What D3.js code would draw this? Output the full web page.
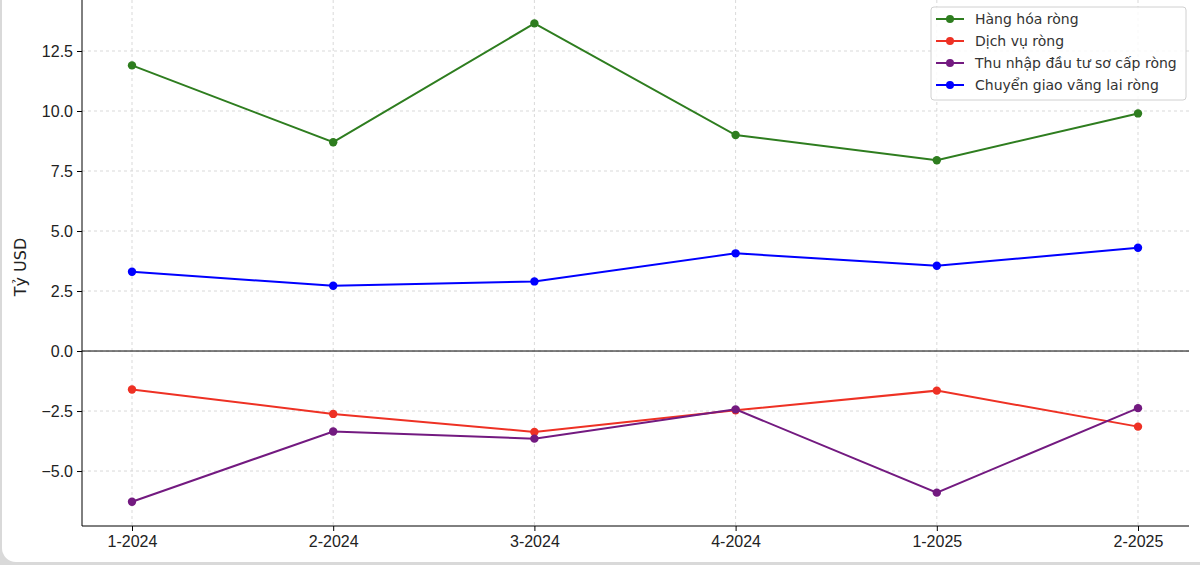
<!DOCTYPE html>
<html><head><meta charset="utf-8">
<script src="https://cdn.jsdelivr.net/npm/d3@7"></script>
<style>
body{margin:0;background:#d9d9d9;}
#card{position:absolute;left:2px;top:-20px;width:1220px;height:582px;background:#fff;border-radius:14px;}
svg{position:absolute;left:0;top:0;font-family:"DejaVu Sans",sans-serif;}
</style></head>
<body><div id="card"></div><svg id="chart" width="1200" height="565"></svg>
<script>
const quarters = ['1-2024','2-2024','3-2024','4-2024','1-2025','2-2025'];
const goods = [11.9, 8.7, 13.65, 9.0, 7.95, 9.9];
const services = [-1.6, -2.62, -3.37, -2.47, -1.65, -3.15];
const income = [-6.28, -3.35, -3.65, -2.43, -5.9, -2.38];
const transfers = [3.3, 2.72, 2.9, 4.07, 3.55, 4.3];
const yTicks = [-5, -2.5, 0, 2.5, 5, 7.5, 10, 12.5];

const series = [
  {name:'Hàng hóa ròng', color:'#2e7d1f', values:goods},
  {name:'Dịch vụ ròng', color:'#ee3124', values:services},
  {name:'Thu nhập đầu tư sơ cấp ròng', color:'#731a80', values:income},
  {name:'Chuyển giao vãng lai ròng', color:'#0000ff', values:transfers}
];

const svg = d3.select('#chart');
const mLeft = 82, mRight = 1189, mTop = 0, mBottom = 526;
const x = d3.scalePoint().domain(quarters).range([132, 1138]);
const y = d3.scaleLinear().domain([-7.29, 14.625]).range([mBottom, mTop]);

const g = svg.append('g');
// grid
g.selectAll('.gy').data(yTicks).join('line')
  .attr('x1', mLeft).attr('x2', mRight).attr('y1', d => y(d)).attr('y2', d => y(d))
  .attr('stroke', '#cfcfcf').attr('stroke-dasharray', '3,3').attr('stroke-width', 0.8);
g.selectAll('.gx').data(quarters).join('line')
  .attr('x1', d => x(d)).attr('x2', d => x(d)).attr('y1', mTop).attr('y2', mBottom)
  .attr('stroke', '#cfcfcf').attr('stroke-dasharray', '3,3').attr('stroke-width', 0.8);
// zero line
g.append('line').attr('x1', mLeft).attr('x2', mRight).attr('y1', y(0)).attr('y2', y(0))
  .attr('stroke', '#000').attr('stroke-width', 1);

// axes
const yAxis = d3.axisLeft(y).tickValues(yTicks).tickSize(5).tickPadding(4)
  .tickFormat(d => d3.format('.1f')(d).replace('-', '−'));
svg.append('g').attr('transform', `translate(${mLeft},0)`).call(yAxis)
  .call(a => a.select('.domain').attr('d', `M0,${mTop}V${mBottom}`))
  .selectAll('text').attr('font-size', 16).attr('fill', '#222');
const xAxis = d3.axisBottom(x).tickSize(5).tickPadding(5);
svg.append('g').attr('transform', `translate(0,${mBottom})`).call(xAxis)
  .call(a => a.select('.domain').attr('d', `M${mLeft},0H${mRight}`))
  .selectAll('text').attr('font-size', 16).attr('fill', '#222');

svg.append('text').attr('transform', `translate(26,${y(3.5)}) rotate(-90)`)
  .attr('text-anchor', 'middle').attr('font-size', 16).attr('fill', '#222').text('Tỷ USD');

const line = d3.line().x((d, i) => x(quarters[i])).y(d => y(d));
series.forEach(s => {
  g.append('path').attr('d', line(s.values)).attr('fill', 'none')
    .attr('stroke', s.color).attr('stroke-width', 2);
  g.selectAll(null).data(s.values).join('circle')
    .attr('cx', (d, i) => x(quarters[i])).attr('cy', d => y(d)).attr('r', 4.2).attr('fill', s.color);
});

// legend
const lg = svg.append('g').attr('transform', 'translate(931,7)');
lg.append('rect').attr('width', 255).attr('height', 93).attr('rx', 3)
  .attr('fill', 'rgba(255,255,255,0.85)').attr('stroke', '#d0d0d0');
series.forEach((s, i) => {
  const r = lg.append('g').attr('transform', `translate(0,${12 + i * 22})`);
  r.append('line').attr('x1', 5).attr('x2', 33).attr('stroke', s.color).attr('stroke-width', 2);
  r.append('circle').attr('cx', 19).attr('r', 4).attr('fill', s.color);
  r.append('text').attr('x', 44).attr('dy', '0.35em').attr('font-size', 14).attr('fill', '#333').text(s.name);
});
</script></body></html>
